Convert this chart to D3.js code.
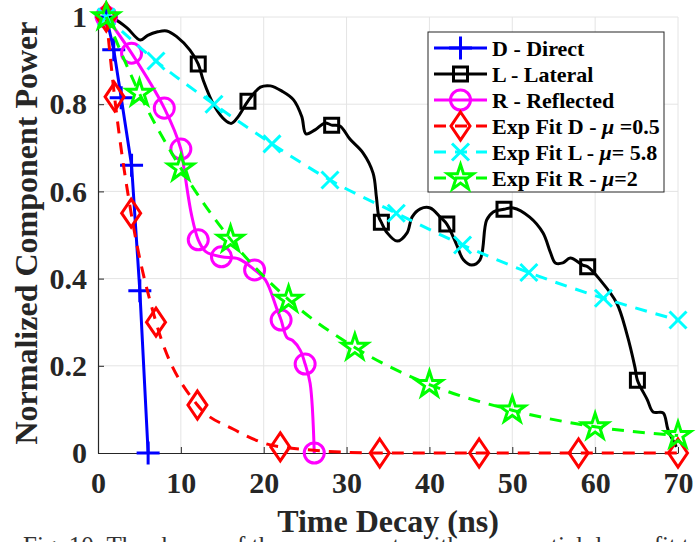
<!DOCTYPE html>
<html>
<head>
<meta charset="utf-8">
<script src="https://cdn.jsdelivr.net/npm/d3@7"></script>
<style>
  body { margin: 0; background: #fff; }
  svg { display: block; }
</style>
</head>
<body>
<svg id="chart" width="696" height="542"></svg>
<script>
// ---- Measured power components (time in ns, normalized power) ----
const directT = [1, 1.9, 2.8, 4.05, 5.05, 6.05];
const directP = [1, 0.925, 0.815, 0.66, 0.372, 0];

const lateralT = [1, 2, 3.5, 5.1, 6, 7.2, 8.3, 9.5, 11.1, 12.1, 12.7, 14.1, 15.3, 16.1, 16.9, 18.1,
  19.6, 20.8, 22.2, 23.6, 24.6, 25.1, 26.2, 27.4, 28.2, 29.2, 30.4, 32, 33.2, 33.6, 33.9, 34.2,
  34.9, 36.1, 37.3, 37.9, 38.9, 40.1, 41.3, 42.1, 43.3, 44.1, 45.1, 46.1, 46.9, 47.7, 49, 50.1,
  52.1, 53.7, 54.6, 55.2, 56.1, 57, 58.5, 59.1, 60.6, 62.6, 63.8, 64.8, 65.1, 66.3, 67, 68.2,
  68.8, 69.8];
const lateralP = [1, 0.995, 0.975, 0.947, 0.958, 0.966, 0.968, 0.955, 0.924, 0.892, 0.855, 0.794,
  0.764, 0.756, 0.771, 0.807, 0.839, 0.842, 0.83, 0.81, 0.771, 0.732, 0.741, 0.757, 0.752, 0.75,
  0.72, 0.688, 0.642, 0.587, 0.541, 0.529, 0.505, 0.486, 0.505, 0.541, 0.56, 0.562, 0.541, 0.525,
  0.477, 0.443, 0.431, 0.443, 0.534, 0.553, 0.559, 0.562, 0.541, 0.505, 0.46, 0.436, 0.436, 0.447,
  0.431, 0.427, 0.397, 0.344, 0.275, 0.197, 0.167, 0.122, 0.094, 0.092, 0.053, 0.014];
const lateralMarkT = [12.1, 18.1, 28.2, 34.2, 42.1, 49, 59.1, 65.1];
const lateralMarkP = [0.892, 0.807, 0.752, 0.529, 0.525, 0.559, 0.427, 0.167];

const reflectedT = [1, 4.05, 8, 10, 10.4, 11.3, 12.1, 13, 14.9, 17, 18.9, 20.2, 21.6, 22.1, 22.8,
  23.5, 24.4, 25, 25.6, 26.1];
const reflectedP = [1, 0.917, 0.791, 0.697, 0.65, 0.545, 0.489, 0.462, 0.45, 0.445, 0.42, 0.397,
  0.33, 0.305, 0.265, 0.258, 0.236, 0.204, 0.16, 0];
const reflectedMarkT = [1, 4.05, 8, 10, 12.1, 14.9, 18.9, 22.1, 25, 26.1];
const reflectedMarkP = [1, 0.917, 0.791, 0.697, 0.489, 0.45, 0.42, 0.305, 0.204, 0];

// ---- Exponential fits ----
const fitDT = [1, 2, 4, 7, 12, 16.3, 22, 34, 46, 58, 70];
const fitDP = [1, 0.817, 0.55, 0.3, 0.11, 0.055, 0.014, 0, 0, 0, 0];
const fitDMarkT = [1, 2, 4, 7, 12, 22, 34, 46, 58, 70];
const fitDMarkP = [1, 0.817, 0.55, 0.3, 0.11, 0.014, 0, 0, 0, 0];

const fitLT = [1, 7, 14, 21, 28, 36, 44, 52, 61, 70];
const fitLP = [1, 0.899, 0.8, 0.709, 0.626, 0.55, 0.477, 0.414, 0.355, 0.305];

const fitRT = [1, 5, 10, 16, 23, 31, 40, 50, 60, 70];
const fitRP = [1, 0.825, 0.653, 0.49, 0.352, 0.242, 0.157, 0.098, 0.06, 0.04];

// ---- Axes ----
const xTicks = [0, 10, 20, 30, 40, 50, 60, 70];
const yTicks = [0, 0.2, 0.4, 0.6, 0.8, 1];
const xTitle = "Time Decay (ns)";
const yTitle = "Normalized Component Power";
const caption = "Fig. 10: The shapes of the components with exponential decay fit to the measured data.";

const legendLabels = ["D - Direct", "L - Lateral", "R - Reflected",
  "Exp Fit D - |μ| =0.5", "Exp Fit L - |μ|= 5.8", "Exp Fit R - |μ|=2"];

const svg = d3.select("#chart");
const serif = "'Liberation Serif', 'Times New Roman', serif";
const ink = "#262626";

const x = d3.scaleLinear().domain([0, 70]).range([98, 678]);
const y = d3.scaleLinear().domain([0, 1]).range([453, 17]);

// grid
const grid = svg.append("g").attr("stroke", "#e4e4e4").attr("stroke-width", 1);
grid.selectAll("line.gx").data(xTicks.filter(d => d > 0)).join("line")
  .attr("x1", d => x(d)).attr("x2", d => x(d))
  .attr("y1", y(0)).attr("y2", y(1));
grid.selectAll("line.gy").data(yTicks.filter(d => d > 0)).join("line")
  .attr("x1", x(0)).attr("x2", x(70))
  .attr("y1", d => y(d)).attr("y2", d => y(d));

const xAxis = svg.append("g").attr("transform", `translate(0,${y(0)})`)
  .call(d3.axisBottom(x).tickValues(xTicks).tickSize(-6).tickSizeOuter(0).tickPadding(19)
    .tickFormat(d3.format("d")));
const yAxis = svg.append("g").attr("transform", `translate(${x(0)},0)`)
  .call(d3.axisLeft(y).tickValues(yTicks).tickSize(-6).tickSizeOuter(0).tickPadding(11)
    .tickFormat(d => (d === 0 || d === 1) ? String(d) : d3.format(".1f")(d)));
[xAxis, yAxis].forEach(g => {
  g.select(".domain").attr("stroke", ink).attr("stroke-width", 1.2);
  g.selectAll(".tick line").attr("stroke", ink).attr("stroke-width", 1);
  g.selectAll(".tick text").attr("fill", ink)
    .style("font-family", serif).style("font-size", "30px").style("font-weight", "bold");
});

// axis titles
svg.append("text").attr("x", 388).attr("y", 532).attr("text-anchor", "middle")
  .attr("fill", ink).style("font-family", serif).style("font-size", "32px").style("font-weight", "bold")
  .text(xTitle);
svg.append("text").attr("transform", "translate(37,233) rotate(-90)").attr("text-anchor", "middle")
  .attr("fill", ink).style("font-family", serif).style("font-size", "32px").style("font-weight", "bold")
  .text(yTitle);

// caption (runs past the bottom edge)
svg.append("text").attr("x", 23).attr("y", 553.5).attr("fill", "#333")
  .style("font-family", serif).style("font-size", "25px").text(caption);

// ---- marker shapes ----
function star(cx, cy, R) {
  const r = R * 0.382, pts = [];
  for (let i = 0; i < 10; i++) {
    const a = -Math.PI / 2 + i * Math.PI / 5, rr = i % 2 ? r : R;
    pts.push([cx + rr * Math.cos(a), cy + rr * Math.sin(a)]);
  }
  return "M" + pts.map(p => p.join(",")).join("L") + "Z";
}
const shapes = {
  plus: (cx, cy) => `M${cx - 11.5},${cy}H${cx + 11.5}M${cx},${cy - 11.5}V${cy + 11.5}`,
  square: (cx, cy) => `M${cx - 7},${cy - 7}h14v14h-14Z`,
  circle: (cx, cy) => `M${cx + 10},${cy}A10,10 0 1,1 ${cx - 10},${cy}A10,10 0 1,1 ${cx + 10},${cy}Z`,
  diamond: (cx, cy) => `M${cx},${cy - 14}L${cx + 9.5},${cy}L${cx},${cy + 14}L${cx - 9.5},${cy}Z`,
  cross: (cx, cy) => `M${cx - 8.5},${cy - 8.5}L${cx + 8.5},${cy + 8.5}M${cx - 8.5},${cy + 8.5}L${cx + 8.5},${cy - 8.5}`,
  star: (cx, cy) => star(cx, cy, 13.5)
};

const series = [
  { t: directT, p: directP, mt: directT, mp: directP, color: "#0000ff", dash: null, shape: "plus", curve: d3.curveLinear },
  { t: lateralT, p: lateralP, mt: lateralMarkT, mp: lateralMarkP, color: "#000000", dash: null, shape: "square", curve: d3.curveCatmullRom.alpha(0.5) },
  { t: reflectedT, p: reflectedP, mt: reflectedMarkT, mp: reflectedMarkP, color: "#ff00ff", dash: null, shape: "circle", curve: d3.curveCatmullRom.alpha(0.5) },
  { t: fitDT, p: fitDP, mt: fitDMarkT, mp: fitDMarkP, color: "#ff0000", dash: "12,9", shape: "diamond", curve: d3.curveMonotoneX },
  { t: fitLT, p: fitLP, mt: fitLT, mp: fitLP, color: "#00ffff", dash: "12,9", shape: "cross", curve: d3.curveMonotoneX },
  { t: fitRT, p: fitRP, mt: fitRT, mp: fitRP, color: "#00ff00", dash: "12,9", shape: "star", curve: d3.curveMonotoneX }
];

const plot = svg.append("g").attr("fill", "none").attr("stroke-width", 3);
series.forEach(s => {
  const pts = d3.zip(s.t, s.p);
  const line = d3.line().x(d => x(d[0])).y(d => y(d[1])).curve(s.curve);
  plot.append("path").attr("d", line(pts)).attr("stroke", s.color)
    .attr("stroke-dasharray", s.dash).attr("stroke-linejoin", "round");
  plot.selectAll(null).data(d3.zip(s.mt, s.mp)).join("path")
    .attr("d", d => shapes[s.shape](x(d[0]), y(d[1])))
    .attr("stroke", s.color).attr("fill", "none");
});

// ---- legend ----
const lg = svg.append("g");
lg.append("rect").attr("x", 428).attr("y", 32).attr("width", 236).attr("height", 160)
  .attr("fill", "#fff").attr("stroke", ink).attr("stroke-width", 1);
series.forEach((s, i) => {
  const cy = 48 + i * 26;
  lg.append("line").attr("x1", 434).attr("x2", 487).attr("y1", cy).attr("y2", cy)
    .attr("stroke", s.color).attr("stroke-width", 3).attr("stroke-dasharray", s.dash);
  lg.append("path").attr("d", shapes[s.shape](460.5, cy)).attr("stroke", s.color)
    .attr("stroke-width", 3).attr("fill", "none");
  const txt = lg.append("text").attr("x", 492).attr("y", cy + 8).attr("fill", "#000")
    .style("font-family", serif).style("font-size", "22px").style("font-weight", "bold");
  legendLabels[i].split("|").forEach((part, k) => {
    txt.append("tspan").text(part).style("font-style", k === 1 ? "italic" : "normal");
  });
});
</script>
</body>
</html>
